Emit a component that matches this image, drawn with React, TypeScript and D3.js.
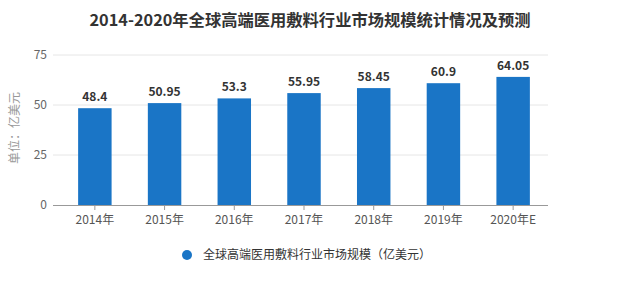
import React from "react";
import * as d3 from "d3";

const categories = ["2014年", "2015年", "2016年", "2017年", "2018年", "2019年", "2020年E"];
const values = [48.4, 50.95, 53.3, 55.95, 58.45, 60.9, 64.05];
const yTicks = [0, 25, 50, 75];
const title = "2014-2020年全球高端医用敷料行业市场规模统计情况及预测";
const seriesName = "全球高端医用敷料行业市场规模（亿美元）";
const yLabel = "单位：亿美元";

export default function App() {
  const W = 622, H = 306;
  const x = d3.scaleBand().domain(categories).range([60, 548]).paddingInner(0.52).paddingOuter(0.26);
  const y = d3.scaleLinear().domain([0, 75]).range([205, 55]);
  const font = "'Microsoft YaHei', 'Noto Sans CJK SC', sans-serif";
  return (
    <svg width={W} height={H} style={{ position: "absolute", left: 0, top: 0, background: "#fff" }} fontFamily={font}>
      <text x={310} y={26} textAnchor="middle" fontSize={16.3} fontWeight="bold" fill="#333">{title}</text>
      {yTicks.map((t) => (
        <g key={t}>
          {t !== 0 && <line x1={53} x2={548} y1={y(t)} y2={y(t)} stroke="#e6e6e6" strokeWidth={1} />}
          <text x={47} y={y(t) + 4} textAnchor="end" fontSize={12} fill="#666">{t}</text>
        </g>
      ))}
      <text transform={`translate(19,128) rotate(-90)`} textAnchor="middle" fontSize={12} fill="#999">{yLabel}</text>
      {categories.map((c, i) => (
        <g key={c}>
          <rect x={x(c)} y={y(values[i])} width={x.bandwidth()} height={y(0) - y(values[i])} fill="#1a75c6" />
          <text x={(x(c) as number) + x.bandwidth() / 2} y={y(values[i]) - 7} textAnchor="middle" fontSize={12} fontWeight="bold" fill="#333">{values[i]}</text>
          <line x1={(x(c) as number) + x.bandwidth() / 2} x2={(x(c) as number) + x.bandwidth() / 2} y1={205} y2={210} stroke="#999" />
          <text x={(x(c) as number) + x.bandwidth() / 2} y={224} textAnchor="middle" fontSize={12} fill="#555">{c}</text>
        </g>
      ))}
      <line x1={53} x2={548} y1={205.5} y2={205.5} stroke="#999" strokeWidth={1} />
      <circle cx={187} cy={255} r={5} fill="#1a75c6" />
      <text x={203} y={259} fontSize={12} fill="#333">{seriesName}</text>
    </svg>
  );
}
